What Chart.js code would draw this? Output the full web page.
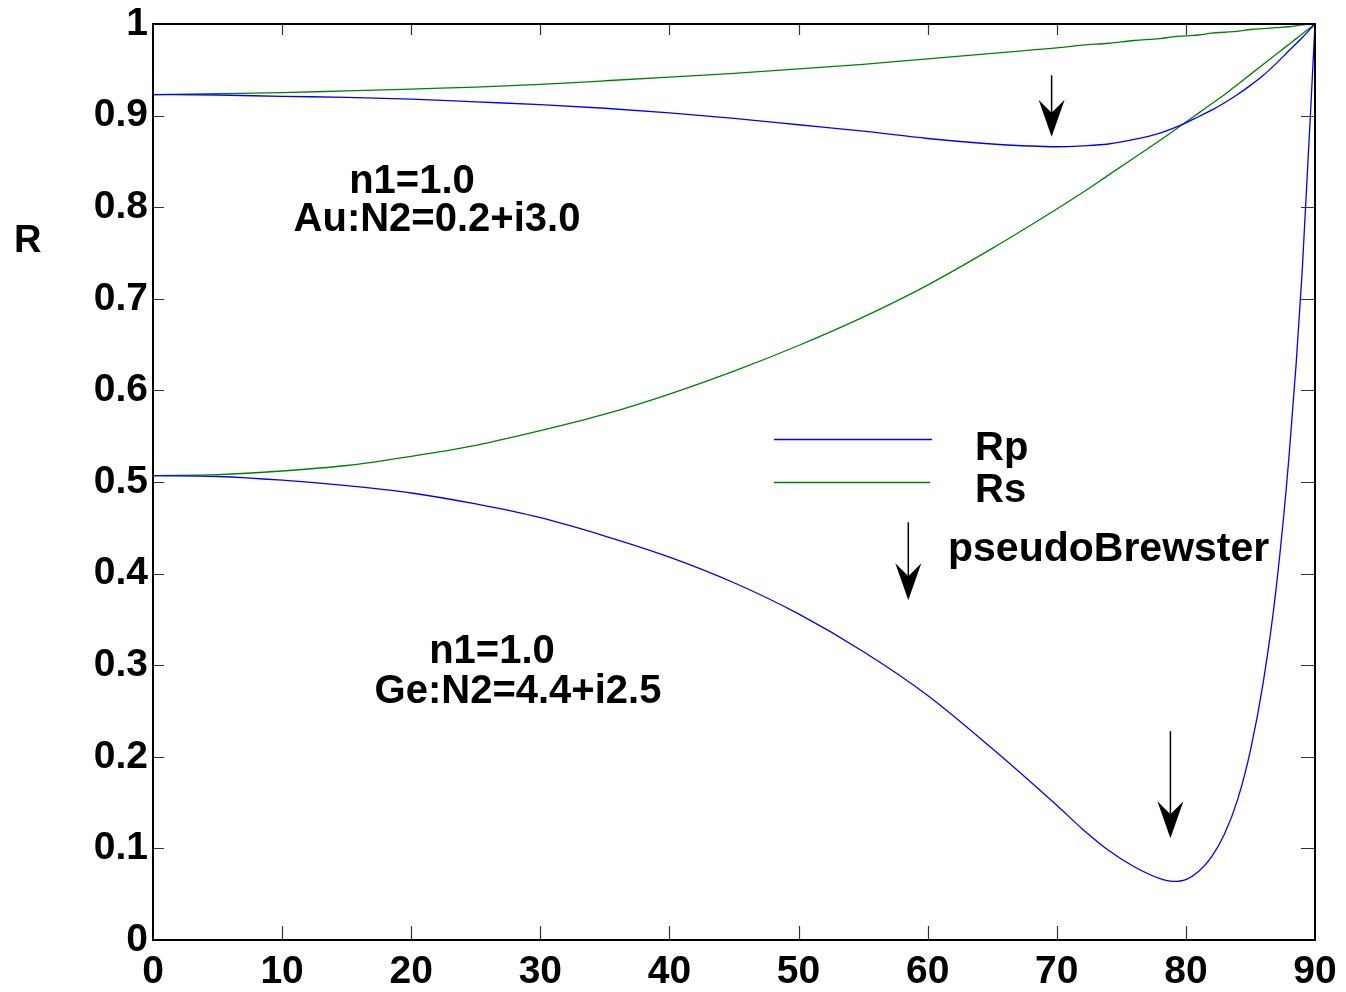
<!DOCTYPE html>
<html>
<head>
<meta charset="utf-8">
<script src="https://cdn.jsdelivr.net/npm/chart.js@4.4.1/dist/chart.umd.min.js"></script>
<style>
  html, body { margin: 0; padding: 0; background: #ffffff; }
  #wrap { width: 1346px; height: 992px; position: relative; }
</style>
</head>
<body>
<div id="wrap"><canvas id="c" width="1346" height="992"></canvas></div>
<script>
// Incidence angle (degrees)
const angles = [0, 5, 10, 15, 20, 25, 30, 35, 40, 45, 50, 55, 60, 65, 70, 72, 74, 76, 78, 79, 80, 81, 82, 83, 84, 85, 86, 87, 88, 89, 90];
// Au: N2 = 0.2 + i3.0
const auRp = [0.923, 0.9225, 0.921, 0.920, 0.918, 0.915, 0.912, 0.908, 0.903, 0.897, 0.890, 0.883, 0.875, 0.869, 0.866, 0.867, 0.869, 0.874, 0.881, 0.886, 0.892, 0.899, 0.906, 0.914, 0.923, 0.933, 0.944, 0.957, 0.971, 0.985, 1.0];
const auRs = [0.923, 0.924, 0.925, 0.927, 0.929, 0.931, 0.934, 0.938, 0.942, 0.946, 0.951, 0.956, 0.962, 0.968, 0.974, 0.977, 0.979, 0.982, 0.984, 0.986, 0.987, 0.988, 0.990, 0.991, 0.992, 0.994, 0.995, 0.996, 0.997, 0.999, 1.0];
// Ge: N2 = 4.4 + i2.5
const geRp = [0.507, 0.506, 0.502, 0.496, 0.488, 0.476, 0.461, 0.441, 0.418, 0.390, 0.356, 0.315, 0.267, 0.209, 0.147, 0.121, 0.098, 0.080, 0.067, 0.064, 0.066, 0.075, 0.091, 0.116, 0.153, 0.207, 0.282, 0.385, 0.530, 0.728, 1.0];
const geRs = [0.507, 0.508, 0.512, 0.518, 0.528, 0.540, 0.556, 0.574, 0.596, 0.621, 0.649, 0.680, 0.715, 0.755, 0.798, 0.816, 0.835, 0.854, 0.873, 0.883, 0.893, 0.903, 0.913, 0.923, 0.934, 0.945, 0.956, 0.967, 0.978, 0.989, 1.0];
// Axis ticks
const xTicks = [0, 10, 20, 30, 40, 50, 60, 70, 80, 90];
const yTicks = [0, 0.1, 0.2, 0.3, 0.4, 0.5, 0.6, 0.7, 0.8, 0.9, 1];
const yTickLabels = ['0', '0.1', '0.2', '0.3', '0.4', '0.5', '0.6', '0.7', '0.8', '0.9', '1'];
// Pseudo-Brewster arrows: [angle, yStart, yEnd]
const arrows = [[69.6, 0.944, 0.877], [78.8, 0.228, 0.111], [58.5, 0.456, 0.371]];

const BLUE = '#0000ff';
const GREEN = '#008000';
const FONT = '"Liberation Sans", Arial, Helvetica, sans-serif';

function pts(ys) { return angles.map((a, i) => ({ x: a, y: ys[i] })); }
function ds(label, ys, color) {
  return { label, data: pts(ys), borderColor: color, borderWidth: 1.3, pointRadius: 0,
           fill: false, cubicInterpolationMode: 'monotone' };
}

const decor = {
  id: 'decor',
  afterDraw(chart) {
    const ctx = chart.ctx;
    const xs = chart.scales.x, ys = chart.scales.y;
    const a = chart.chartArea;
    ctx.save();
    // inside tick marks
    ctx.strokeStyle = '#333';
    ctx.lineWidth = 1.2;
    ctx.beginPath();
    yTicks.forEach(v => {
      if (v === 0 || v === 1) return;
      const y = Math.round(ys.getPixelForValue(v)) + 0.5;
      ctx.moveTo(a.left, y); ctx.lineTo(a.left + 11, y);
      ctx.moveTo(a.right, y); ctx.lineTo(a.right - 14, y);
    });
    xTicks.forEach(v => {
      if (v === 0 || v === 90) return;
      const x = Math.round(xs.getPixelForValue(v)) + 0.5;
      ctx.moveTo(x, a.top); ctx.lineTo(x, a.top + 11);
      ctx.moveTo(x, a.bottom); ctx.lineTo(x, a.bottom - 14);
    });
    ctx.stroke();
    // box
    ctx.strokeStyle = '#000';
    ctx.lineWidth = 2;
    ctx.strokeRect(a.left, a.top, a.right - a.left, a.bottom - a.top);

    // arrows
    arrows.forEach(([ang, y0, y1]) => {
      const x = xs.getPixelForValue(ang);
      const ps = ys.getPixelForValue(y0);
      const pe = ys.getPixelForValue(y1);
      ctx.strokeStyle = '#000';
      ctx.lineWidth = 1.5;
      ctx.beginPath(); ctx.moveTo(x, ps); ctx.lineTo(x, pe - 20); ctx.stroke();
      ctx.fillStyle = '#000';
      ctx.beginPath();
      ctx.moveTo(x, pe);
      ctx.lineTo(x - 13, pe - 37);
      ctx.lineTo(x, pe - 24);
      ctx.lineTo(x + 13, pe - 37);
      ctx.closePath();
      ctx.fill();
    });

    // legend
    ctx.lineWidth = 1.3;
    ctx.strokeStyle = BLUE;
    ctx.beginPath(); ctx.moveTo(774, 439.5); ctx.lineTo(932, 439.5); ctx.stroke();
    ctx.strokeStyle = GREEN;
    ctx.beginPath(); ctx.moveTo(774, 482.5); ctx.lineTo(930, 482.5); ctx.stroke();

    ctx.fillStyle = '#000';
    ctx.font = 'bold 40px ' + FONT;
    ctx.textBaseline = 'alphabetic';
    ctx.textAlign = 'left';
    ctx.fillText('Rp', 975, 460);
    ctx.fillText('Rs', 975, 502);
    ctx.font = 'bold 41px ' + FONT;
    ctx.fillText('pseudoBrewster', 948, 561);

    // annotations
    ctx.font = 'bold 40px ' + FONT;
    ctx.textAlign = 'center';
    ctx.fillText('n1=1.0', 412, 193);
    ctx.fillText('Au:N2=0.2+i3.0', 437, 231);
    ctx.fillText('n1=1.0', 492, 663);
    ctx.fillText('Ge:N2=4.4+i2.5', 518, 703);

    // y axis title
    ctx.textAlign = 'left';
    ctx.font = 'bold 38px ' + FONT;
    ctx.fillText('R', 14, 252);
    ctx.restore();
  }
};

new Chart(document.getElementById('c'), {
  type: 'line',
  data: {
    datasets: [
      ds('Au Rp', auRp, BLUE),
      ds('Au Rs', auRs, GREEN),
      ds('Ge Rp', geRp, BLUE),
      ds('Ge Rs', geRs, GREEN)
    ]
  },
  options: {
    responsive: false,
    animation: false,
    devicePixelRatio: 1,
    layout: { padding: { top: 24, right: 31, left: 0, bottom: 0 } },
    plugins: { legend: { display: false }, tooltip: { enabled: false }, title: { display: false } },
    scales: {
      x: {
        type: 'linear', min: 0, max: 90,
        afterBuildTicks: s => { s.ticks = xTicks.map(v => ({ value: v })); },
        afterFit: s => { s.height = 52; s.paddingLeft = 0; s.paddingRight = 0; },
        grid: { display: false, drawTicks: false },
        border: { display: false },
        ticks: { color: '#000', font: { family: FONT, size: 39, weight: 'bold', lineHeight: 1.0 }, padding: 13, maxRotation: 0, autoSkip: false }
      },
      y: {
        type: 'linear', min: 0, max: 1,
        afterBuildTicks: s => { s.ticks = yTicks.map(v => ({ value: v })); },
        afterFit: s => { s.width = 153; s.paddingTop = 0; s.paddingBottom = 0; },
        grid: { display: false, drawTicks: false },
        border: { display: false },
        ticks: { color: '#000', font: { family: FONT, size: 39, weight: 'bold', lineHeight: 1.0 }, padding: 5, autoSkip: false,
                 callback: (v) => { const i = yTicks.findIndex(t => Math.abs(t - v) < 1e-9); return i >= 0 ? yTickLabels[i] : ''; } }
      }
    }
  },
  plugins: [decor]
});
</script>
</body>
</html>
